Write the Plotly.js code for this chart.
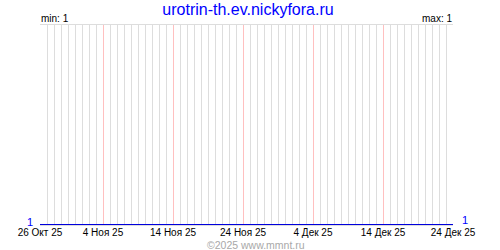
<!DOCTYPE html>
<html>
<head>
<meta charset="utf-8">
<script src="https://cdn.plot.ly/plotly-3.0.1.min.js"></script>
<style>html,body{margin:0;padding:0;background:#fff;}#chart{width:500px;height:250px;}</style>
</head>
<body>
<div id="chart"></div>
<script>
const siteTitle = 'urotrin-th.ev.nickyfora.ru';
const copyrightText = '©2025 www.mmnt.ru';
const dates = [
  '2025-10-26','2025-10-27','2025-10-28','2025-10-29','2025-10-30','2025-10-31',
  '2025-11-01','2025-11-02','2025-11-03','2025-11-04','2025-11-05','2025-11-06','2025-11-07','2025-11-08','2025-11-09','2025-11-10',
  '2025-11-11','2025-11-12','2025-11-13','2025-11-14','2025-11-15','2025-11-16','2025-11-17','2025-11-18','2025-11-19','2025-11-20',
  '2025-11-21','2025-11-22','2025-11-23','2025-11-24','2025-11-25','2025-11-26','2025-11-27','2025-11-28','2025-11-29','2025-11-30',
  '2025-12-01','2025-12-02','2025-12-03','2025-12-04','2025-12-05','2025-12-06','2025-12-07','2025-12-08','2025-12-09','2025-12-10',
  '2025-12-11','2025-12-12','2025-12-13','2025-12-14','2025-12-15','2025-12-16','2025-12-17','2025-12-18','2025-12-19','2025-12-20',
  '2025-12-21','2025-12-22','2025-12-23','2025-12-24'
];
const values = [
  1,1,1,1,1,1,
  1,1,1,1,1,1,1,1,1,1,
  1,1,1,1,1,1,1,1,1,1,
  1,1,1,1,1,1,1,1,1,1,
  1,1,1,1,1,1,1,1,1,1,
  1,1,1,1,1,1,1,1,1,1,
  1,1,1,1
];
const tickDates = ['2025-10-26','2025-11-04','2025-11-14','2025-11-24','2025-12-04','2025-12-14','2025-12-24'];
const tickLabels = ['26 Окт 25','4 Ноя 25','14 Ноя 25','24 Ноя 25','4 Дек 25','14 Дек 25','24 Дек 25'];

const minVal = Math.min(...values);
const maxVal = Math.max(...values);
const dayGridDates = dates.filter(d => !tickDates.includes(d));
const FONT = 'Liberation Sans, Arial, sans-serif';

const trace = {
  x: dates, y: values, type: 'scatter', mode: 'lines',
  line: {color: '#0000dd', width: 2}, hoverinfo: 'skip'
};

const layout = {
  width: 500, height: 250,
  margin: {l: 40, r: 47, t: 25, b: 25, pad: 0},
  paper_bgcolor: '#ffffff', plot_bgcolor: '#ffffff',
  showlegend: false,
  font: {family: FONT, size: 10, color: '#000'},
  title: {
    text: siteTitle,
    font: {family: FONT, size: 16, color: '#0000ff'},
    x: 0.496, xref: 'container', xanchor: 'center',
    y: 0.962, yref: 'container', yanchor: 'middle'
  },
  xaxis: {
    type: 'date',
    range: [dates[0], dates[dates.length - 1]],
    tickmode: 'array', tickvals: tickDates, ticktext: tickLabels,
    showgrid: true, gridcolor: '#ffc0c0', gridwidth: 1,
    minor: {tickmode: 'array', tickvals: dayGridDates, showgrid: true, gridcolor: '#dddddd', gridwidth: 1, ticks: ''},
    ticks: '', showline: true, mirror: true, linecolor: '#dddddd', linewidth: 1,
    zeroline: false, fixedrange: true, ticklabelstandoff: -2,
    tickfont: {family: FONT, size: 10, color: '#000'}
  },
  yaxis: {
    range: [minVal, minVal + 1],
    showgrid: false, showticklabels: false, ticks: '', zeroline: false,
    showline: false, fixedrange: true
  },
  annotations: [
    {text: 'min: ' + minVal, xref: 'paper', yref: 'paper', x: 0, y: 1, xanchor: 'left', yanchor: 'bottom',
     showarrow: false, font: {family: FONT, size: 10, color: '#000'}, borderpad: 0},
    {text: 'max: ' + maxVal, xref: 'paper', yref: 'paper', x: 1, y: 1, xanchor: 'right', yanchor: 'bottom',
     showarrow: false, font: {family: FONT, size: 10, color: '#000'}, borderpad: 0},
    {text: String(values[0]), xref: 'paper', yref: 'y', x: 0, y: values[0], xanchor: 'right', yanchor: 'bottom',
     xshift: -6, yshift: -4, showarrow: false, font: {family: FONT, size: 11, color: '#0000ff'}, borderpad: 0},
    {text: String(values[values.length - 1]), xref: 'paper', yref: 'y', x: 1, y: values[values.length - 1], xanchor: 'left', yanchor: 'bottom',
     xshift: 8, yshift: -2, showarrow: false, font: {family: FONT, size: 11, color: '#0000ff'}, borderpad: 0},
    {text: copyrightText, xref: 'paper', yref: 'paper', x: 0.523, y: -0.1, xanchor: 'center', yanchor: 'middle',
     showarrow: false, font: {family: FONT, size: 10.5, color: '#a8a8a8'}, borderpad: 0}
  ]
};

Plotly.newPlot('chart', [trace], layout, {staticPlot: true, displayModeBar: false});
</script>
</body>
</html>
